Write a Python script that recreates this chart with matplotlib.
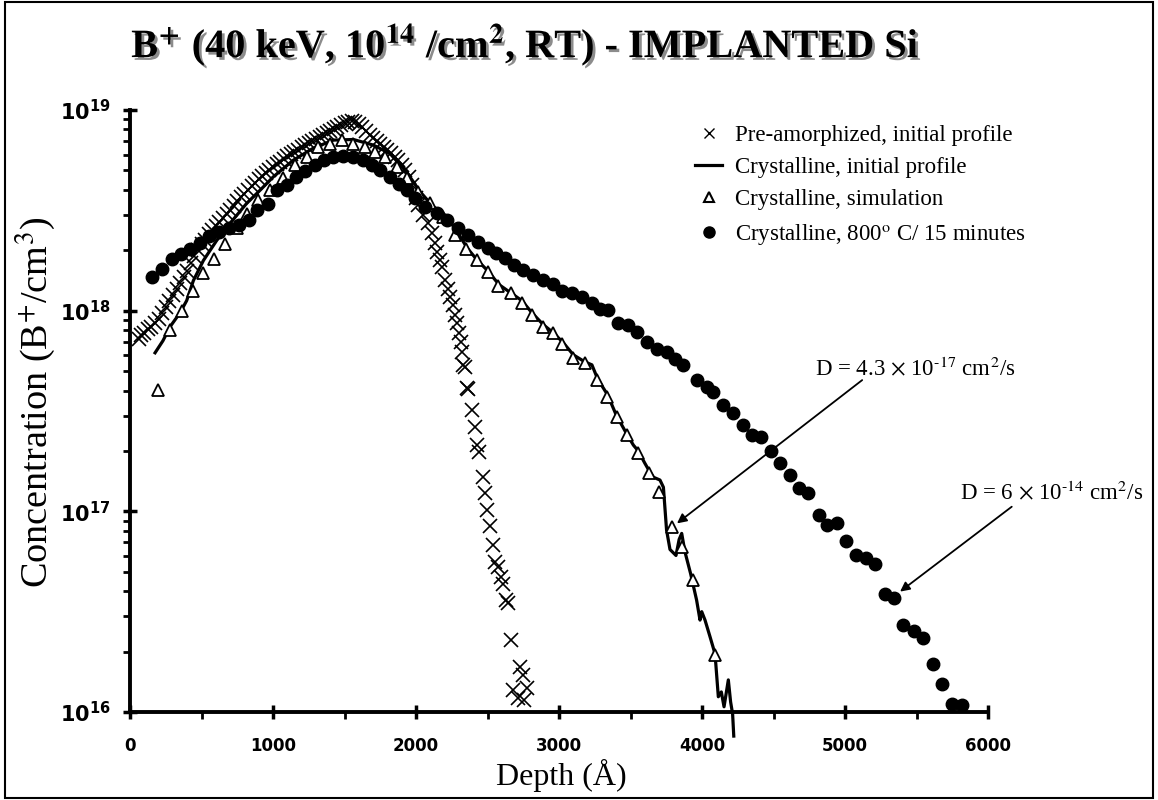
import matplotlib
matplotlib.use("Agg")
import matplotlib.pyplot as plt
import matplotlib.patheffects as pe
import numpy as np
from matplotlib.lines import Line2D
from matplotlib.patches import Rectangle
from matplotlib.ticker import FixedFormatter, FixedLocator, LogLocator, MultipleLocator, NullFormatter

# Pre-amorphized, initial profile (depth in A, log10 of concentration)
pre_depth = [60, 80, 100, 125, 150, 175, 200, 225, 250, 275,
             300, 325, 350, 375, 400, 425, 450, 475, 500, 525,
             550, 575, 600, 625, 650, 675, 700, 725, 750, 775,
             800, 825, 850, 875, 900, 925, 950, 975, 1000, 1025,
             1050, 1075, 1100, 1125, 1150, 1175, 1200, 1225, 1250, 1275,
             1300, 1325, 1350, 1375, 1400, 1425, 1450, 1475, 1500, 1525,
             1550, 1575, 1600, 1625, 1650, 1675, 1700, 1725, 1750, 1775,
             1800, 1825, 1850, 1875, 1900, 1925, 1950, 1975, 2000, 2016,
             2051, 2086, 2110, 2133, 2149, 2168, 2180, 2203, 2226, 2238,
             2261, 2273, 2289, 2303, 2312, 2319, 2331, 2343, 2359, 2366,
             2389, 2413, 2429, 2443, 2466, 2483, 2499, 2517, 2535, 2552,
             2576, 2591, 2607, 2629, 2646, 2661, 2681, 2716, 2727, 2745,
             2755, 2774]
pre_log = [17.86, 17.88, 17.89, 17.91, 17.92, 17.94, 17.96, 17.99, 18.02, 18.05,
           18.08, 18.11, 18.14, 18.17, 18.20, 18.24, 18.27, 18.30, 18.33, 18.35,
           18.38, 18.40, 18.42, 18.44, 18.46, 18.48, 18.50, 18.52, 18.545, 18.565,
           18.58, 18.60, 18.62, 18.635, 18.655, 18.67, 18.685, 18.70, 18.715, 18.73,
           18.74, 18.755, 18.77, 18.78, 18.79, 18.80, 18.815, 18.825, 18.835, 18.845,
           18.855, 18.865, 18.875, 18.885, 18.895, 18.905, 18.915, 18.925, 18.935, 18.94,
           18.945, 18.94, 18.93, 18.915, 18.895, 18.875, 18.86, 18.845, 18.83, 18.815,
           18.80, 18.785, 18.765, 18.75, 18.725, 18.70, 18.665, 18.625, 18.56, 18.526,
           18.476, 18.435, 18.385, 18.335, 18.293, 18.252, 18.219, 18.152, 18.11, 18.07,
           18.028, 17.978, 17.937, 17.887, 17.845, 17.795, 17.729, 17.72, 17.613, 17.61,
           17.505, 17.42, 17.33, 17.297, 17.17, 17.09, 17.006, 16.927, 16.832, 16.749,
           16.724, 16.674, 16.638, 16.558, 16.545, 16.359, 16.11, 16.068, 16.226, 16.184,
           16.06, 16.118]

# Crystalline, initial profile (solid line)
cry_depth = [175, 230, 280, 350, 396, 443, 513, 606, 699, 816,
             909, 1002, 1142, 1282, 1422, 1562, 1702, 1818, 1935, 2028,
             2121, 2215, 2290, 2360, 2430, 2500, 2580, 2660, 2740, 2810,
             2890, 2960, 3030, 3100, 3180, 3230, 3270, 3340, 3400, 3470,
             3520, 3555, 3600, 3632, 3660, 3706, 3730, 3752, 3776, 3818,
             3840, 3858, 3880, 3920, 3962, 3986, 3998, 4021, 4056, 4091,
             4114, 4135, 4154, 4184, 4200, 4214, 4222]
cry_log = [17.79, 17.85, 17.92, 17.99, 18.05, 18.15, 18.25, 18.35, 18.435, 18.535,
           18.60, 18.667, 18.75, 18.81, 18.85, 18.853, 18.825, 18.783, 18.69, 18.593,
           18.518, 18.47, 18.39, 18.31, 18.25, 18.20, 18.13, 18.09, 18.05, 17.99,
           17.93, 17.89, 17.84, 17.78, 17.745, 17.73, 17.66, 17.58, 17.48, 17.39,
           17.33, 17.30, 17.24, 17.20, 17.17, 17.156, 17.12, 16.907, 16.81, 16.78,
           16.86, 16.89, 16.80, 16.69, 16.558, 16.458, 16.50, 16.458, 16.375, 16.29,
           16.076, 16.10, 16.026, 16.16, 16.05, 15.99, 15.88]

# Crystalline, simulation (open triangles)
sim_depth = [198, 282, 363, 440, 512, 590, 664, 745, 820, 897,
             979, 1072, 1154, 1235, 1317, 1399, 1480, 1562, 1643, 1713,
             1783, 1865, 1935, 2016, 2098, 2191, 2273, 2350, 2426, 2502,
             2576, 2661, 2739, 2809, 2890, 2960, 3024, 3100, 3182, 3263,
             3333, 3403, 3475, 3555, 3632, 3702, 3788, 3858, 3940, 4091]
sim_log = [17.604, 17.905, 18.00, 18.10, 18.188, 18.255, 18.333, 18.41, 18.48, 18.55,
           18.60, 18.66, 18.725, 18.767, 18.817, 18.833, 18.85, 18.833, 18.817, 18.79,
           18.767, 18.717, 18.66, 18.593, 18.535, 18.468, 18.377, 18.305, 18.252, 18.194,
           18.123, 18.09, 18.04, 17.98, 17.92, 17.887, 17.833, 17.766, 17.737, 17.654,
           17.57, 17.47, 17.38, 17.29, 17.19, 17.098, 16.923, 16.824, 16.658, 16.284]

# Crystalline, 800 C / 15 minutes (filled circles)
ann_depth = [155, 225, 290, 355, 420, 490, 550, 620, 690, 760,
             830, 890, 965, 1030, 1095, 1160, 1225, 1290, 1355, 1420,
             1490, 1560, 1630, 1690, 1750, 1820, 1880, 1935, 1995, 2065,
             2145, 2220, 2296, 2360, 2430, 2500, 2560, 2620, 2685, 2750,
             2820, 2890, 2960, 3020, 3090, 3160, 3230, 3290, 3345, 3415,
             3485, 3545, 3615, 3685, 3755, 3810, 3870, 3965, 4035, 4080,
             4150, 4220, 4290, 4350, 4410, 4480, 4545, 4615, 4680, 4740,
             4815, 4875, 4945, 5005, 5080, 5145, 5210, 5280, 5345, 5405,
             5480, 5545, 5615, 5675, 5745, 5815]
ann_log = [18.17, 18.21, 18.255, 18.28, 18.305, 18.335, 18.37, 18.39, 18.41, 18.427,
           18.45, 18.50, 18.53, 18.60, 18.626, 18.664, 18.697, 18.725, 18.75, 18.767,
           18.77, 18.764, 18.75, 18.725, 18.70, 18.667, 18.63, 18.60, 18.56, 18.518,
           18.485, 18.45, 18.41, 18.377, 18.343, 18.31, 18.285, 18.26, 18.227, 18.205,
           18.18, 18.155, 18.135, 18.10, 18.086, 18.07, 18.036, 18.01, 18.003, 17.937,
           17.928, 17.895, 17.845, 17.81, 17.795, 17.76, 17.73, 17.654, 17.62, 17.596,
           17.53, 17.49, 17.43, 17.38, 17.37, 17.30, 17.24, 17.18, 17.115, 17.09,
           16.98, 16.93, 16.943, 16.853, 16.78, 16.766, 16.737, 16.59, 16.57, 16.433,
           16.405, 16.37, 16.24, 16.14, 16.04, 16.035]

legend_labels = ["Pre-amorphized, initial profile",
                 "Crystalline, initial profile",
                 "Crystalline, simulation",
                 r"Crystalline, 800$^{\mathrm{o}}$ C/ 15 minutes"]

x_ticks = [0, 1000, 2000, 3000, 4000, 5000, 6000]
y_ticks = [1e16, 1e17, 1e18, 1e19]
y_tick_labels = [r"$\mathbf{10^{16}}$", r"$\mathbf{10^{17}}$",
                 r"$\mathbf{10^{18}}$", r"$\mathbf{10^{19}}$"]

plt.rcParams["mathtext.fontset"] = "dejavusans"
serif = "Liberation Serif"

fig = plt.figure(figsize=(11.58, 8.0), dpi=100)
ax = fig.add_axes([0.1123, 0.11, 0.7409, 0.7525])

ax.plot(pre_depth, 10 ** np.array(pre_log), ls="none", marker="x", ms=10, mew=1.2,
        color="k", zorder=2)
ax.plot(cry_depth, 10 ** np.array(cry_log), "-", lw=2.3, color="k", zorder=3,
        clip_on=False)
ax.plot(sim_depth, 10 ** np.array(sim_log), ls="none", marker="^", ms=8, mfc="white",
        mec="k", mew=1.3, zorder=4)
ax.plot(ann_depth, 10 ** np.array(ann_log), ls="none", marker="o", ms=9, color="k",
        zorder=5)

ax.set_yscale("log")
ax.set_xlim(0, 6000)
ax.set_ylim(1e16, 1e19)

for side in ["top", "right"]:
    ax.spines[side].set_visible(False)
for side in ["left", "bottom"]:
    ax.spines[side].set_linewidth(2.8)

ax.xaxis.set_major_locator(FixedLocator(x_ticks))
ax.xaxis.set_minor_locator(MultipleLocator(500))
ax.yaxis.set_major_locator(FixedLocator(y_ticks))
ax.yaxis.set_major_formatter(FixedFormatter(y_tick_labels))
ax.yaxis.set_minor_locator(LogLocator(base=10, subs=range(2, 10)))
ax.yaxis.set_minor_formatter(NullFormatter())

ax.tick_params(which="major", direction="inout", length=10, width=2.5)
ax.tick_params(which="minor", direction="out", length=5, width=2)
ax.tick_params(axis="x", which="major", pad=13, labelsize=12)
ax.tick_params(axis="y", which="major", pad=9, labelsize=15)
for lab in ax.get_xticklabels():
    lab.set_fontfamily("DejaVu Sans")
    lab.set_fontweight("bold")

# annotations with arrows
ax.annotate("", xy=(3825, 10 ** 16.94), xytext=(5120, 10 ** 17.654),
            arrowprops=dict(arrowstyle="-|>", color="k", lw=1.3, mutation_scale=14,
                            shrinkA=0, shrinkB=0), annotation_clip=False)
ax.annotate("", xy=(5385, 10 ** 16.6), xytext=(6166, 10 ** 17.023),
            arrowprops=dict(arrowstyle="-|>", color="k", lw=1.3, mutation_scale=14,
                            shrinkA=0, shrinkB=0), annotation_clip=False)
ax.text(5490, 10 ** 17.709, r"D = 4.3 $\times$ 10$^{\text{-}17}$ cm$^{2}$/s",
        ha="center", va="center", fontsize=16.5, family=serif, math_fontfamily="stix",
        clip_on=False)
ax.text(6448, 10 ** 17.091, r"D = 6 $\times$ 10$^{\text{-}14}$ cm$^{2}$/s",
        ha="center", va="center", fontsize=16.5, family=serif, math_fontfamily="stix",
        clip_on=False)

handles = [
    Line2D([], [], ls="none", marker="x", ms=7, mew=1.0, color="k"),
    Line2D([], [], color="k", lw=2.3),
    Line2D([], [], ls="none", marker="^", ms=7, mfc="white", mec="k", mew=1.5),
    Line2D([], [], ls="none", marker="o", ms=8, color="k"),
]
leg = ax.legend(handles, legend_labels, loc="upper left", bbox_to_anchor=(0.600, 0.844),
                bbox_transform=fig.transFigure, frameon=False,
                prop={"family": serif, "size": 16.5}, handlelength=1.2,
                handletextpad=0.55, labelspacing=0.49, borderpad=0, borderaxespad=0)
for t in leg.get_texts():
    t.set_math_fontfamily("stix")

fig.text(0.4534, 0.944,
         r"B$^{\mathbf{+}}$ (40 keV, 10$^{\mathbf{14}}$ /cm$^{\mathbf{2}}$, RT) - IMPLANTED Si",
         ha="center", va="center", fontsize=29, fontweight="bold", family=serif,
         math_fontfamily="stix",
         path_effects=[pe.SimplePatchShadow(offset=(2, -2), shadow_rgbFace="0.55", alpha=1.0),
                       pe.Normal()])
fig.text(0.030, 0.4975, r"Concentration (B$^{+}$/cm$^{3}$)", rotation=90,
         ha="center", va="center", fontsize=27.5, family=serif, math_fontfamily="stix")
fig.text(0.485, 0.031, "Depth (Å)", ha="center", va="center", fontsize=23, family=serif)

fig.add_artist(Rectangle((0.004, 0.003), 0.992, 0.994, transform=fig.transFigure,
                         fill=False, lw=1.5, ec="k"))

fig.savefig("out.png", dpi=100)
